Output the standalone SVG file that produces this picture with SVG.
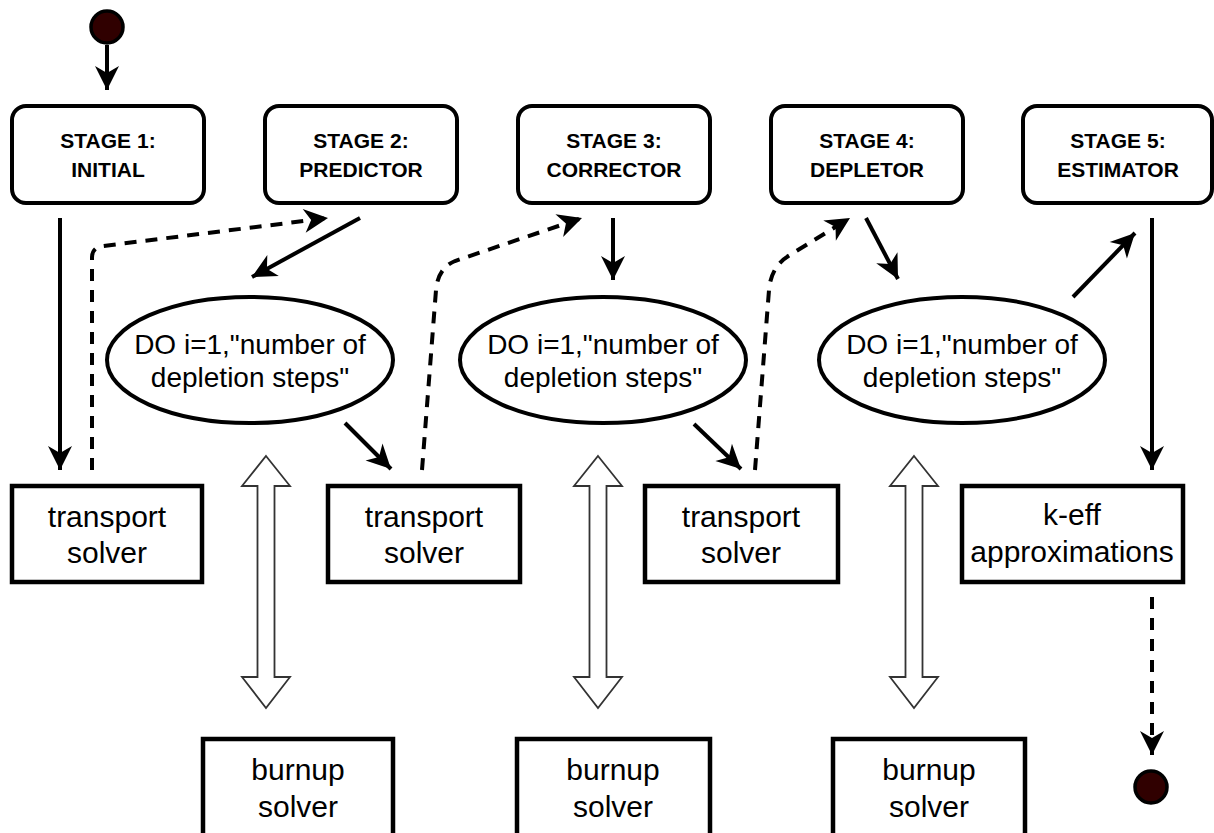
<svg xmlns="http://www.w3.org/2000/svg" width="1214" height="833" viewBox="0 0 1214 833">
<defs>
<marker id="ah" markerUnits="userSpaceOnUse" markerWidth="26" markerHeight="26" refX="24" refY="12" orient="auto" overflow="visible">
<path d="M0,0 L24,12 L0,24 L7,12 Z" fill="#000"/>
</marker>
</defs>
<style>
.stage rect{fill:#fff;stroke:#000;stroke-width:4}
.box rect{fill:#fff;stroke:#000;stroke-width:4.5}
.loop ellipse{fill:#fff;stroke:#000;stroke-width:4}
.st{font-family:"Liberation Sans",Arial,sans-serif;font-weight:bold;font-size:21px;text-anchor:middle;fill:#000}
.tx{font-family:"Liberation Sans",Arial,sans-serif;font-size:30px;text-anchor:middle;fill:#000}
.el{font-family:"Liberation Sans",Arial,sans-serif;font-size:28px;text-anchor:middle;fill:#000}
.c{fill:none;stroke:#000;stroke-width:4;marker-end:url(#ah)}
.d{stroke-dasharray:12 9}
.hollow{fill:#fff;stroke:#333;stroke-width:1.8}
.dot{fill:#300000;stroke:#000;stroke-width:3.5}
</style>
<rect width="1214" height="833" fill="#fff"/>

<g id="start"><circle class="dot" cx="107" cy="27" r="16"/></g>
<g id="end"><circle class="dot" cx="1151" cy="787" r="16"/></g>

<g id="stage1" class="stage"><rect x="12" y="106" width="192" height="97" rx="14"/><text class="st" x="108" y="148">STAGE 1:</text><text class="st" x="108" y="177">INITIAL</text></g>
<g id="stage2" class="stage"><rect x="265" y="106" width="192" height="97" rx="14"/><text class="st" x="361" y="148">STAGE 2:</text><text class="st" x="361" y="177">PREDICTOR</text></g>
<g id="stage3" class="stage"><rect x="518" y="106" width="192" height="97" rx="14"/><text class="st" x="614" y="148">STAGE 3:</text><text class="st" x="614" y="177">CORRECTOR</text></g>
<g id="stage4" class="stage"><rect x="771" y="106" width="192" height="97" rx="14"/><text class="st" x="867" y="148">STAGE 4:</text><text class="st" x="867" y="177">DEPLETOR</text></g>
<g id="stage5" class="stage"><rect x="1023" y="106" width="189" height="97" rx="14"/><text class="st" x="1118" y="148">STAGE 5:</text><text class="st" x="1118" y="177">ESTIMATOR</text></g>

<g id="loop1" class="loop"><ellipse cx="250" cy="360" rx="143" ry="63"/><text class="el" x="250" y="354">DO i=1,"number of</text><text class="el" x="250" y="387">depletion steps"</text></g>
<g id="loop2" class="loop"><ellipse cx="603" cy="360" rx="143" ry="63"/><text class="el" x="603" y="354">DO i=1,"number of</text><text class="el" x="603" y="387">depletion steps"</text></g>
<g id="loop3" class="loop"><ellipse cx="962" cy="360" rx="143" ry="63"/><text class="el" x="962" y="354">DO i=1,"number of</text><text class="el" x="962" y="387">depletion steps"</text></g>

<g id="transport1" class="box"><rect x="12" y="486" width="190" height="96"/><text class="tx" x="107" y="527">transport</text><text class="tx" x="107" y="563">solver</text></g>
<g id="transport2" class="box"><rect x="328" y="486" width="192" height="96"/><text class="tx" x="424" y="527">transport</text><text class="tx" x="424" y="563">solver</text></g>
<g id="transport3" class="box"><rect x="645" y="486" width="193" height="96"/><text class="tx" x="741" y="527">transport</text><text class="tx" x="741" y="563">solver</text></g>
<g id="keff" class="box"><rect x="962" y="486" width="221" height="96"/><text class="tx" x="1072" y="525">k-eff</text><text class="tx" x="1072" y="562">approximations</text></g>

<g id="burnup1" class="box"><rect x="203" y="739" width="190" height="100"/><text class="tx" x="298" y="780">burnup</text><text class="tx" x="298" y="817">solver</text></g>
<g id="burnup2" class="box"><rect x="517" y="739" width="193" height="100"/><text class="tx" x="613" y="780">burnup</text><text class="tx" x="613" y="817">solver</text></g>
<g id="burnup3" class="box"><rect x="833" y="739" width="192" height="100"/><text class="tx" x="929" y="780">burnup</text><text class="tx" x="929" y="817">solver</text></g>

<g id="connectors">
<path class="c" d="M107,45 L107,90"/>
<path class="c" d="M60,218 L60,470"/>
<path class="c d" d="M92,470 L92,258 Q92,247 103,246 L328,218"/>
<path class="c" d="M360,218 L252,277"/>
<path class="c" d="M345,423 L391,469"/>
<path class="c d" d="M422,470 L436,290 Q438,268 455,261 L582,218"/>
<path class="c" d="M613,218 L613,280"/>
<path class="c" d="M694,424 L741,469"/>
<path class="c d" d="M755,470 L769,290 Q771,266 790,255 L850,218"/>
<path class="c" d="M866,218 L898,279"/>
<path class="c" d="M1073,297 L1135,233"/>
<path class="c" d="M1152,218 L1152,470"/>
<path class="c d" d="M1152,597 L1152,755"/>
<polygon class="hollow" points="266,456 290,486 274.5,486 274.5,677 290,677 266,708 242,677 257.5,677 257.5,486 242,486"/>
<polygon class="hollow" points="598,456 622,486 606.5,486 606.5,677 622,677 598,708 574,677 589.5,677 589.5,486 574,486"/>
<polygon class="hollow" points="914,456 938,486 922.5,486 922.5,677 938,677 914,708 890,677 905.5,677 905.5,486 890,486"/>
</g>
</svg>
